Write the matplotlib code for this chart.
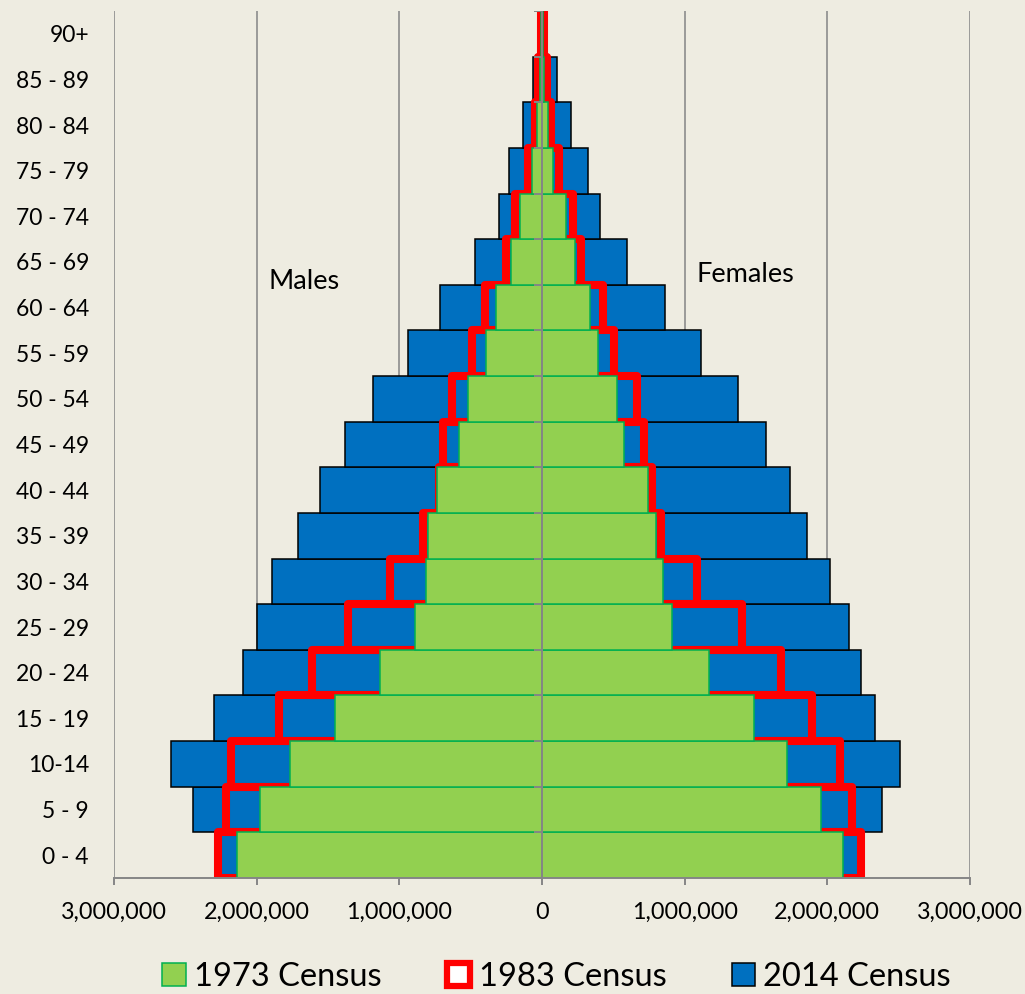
import numpy as np
import matplotlib
matplotlib.use('Agg')
import matplotlib.pyplot as plt
from matplotlib.patches import Patch
from matplotlib.ticker import FuncFormatter

plt.rcParams['font.family'] = ['Lato', 'DejaVu Sans']

# age groups, bottom to top
ages = ['0 - 4', '5 - 9', '10-14', '15 - 19', '20 - 24', '25 - 29', '30 - 34',
        '35 - 39', '40 - 44', '45 - 49', '50 - 54', '55 - 59', '60 - 64',
        '65 - 69', '70 - 74', '75 - 79', '80 - 84', '85 - 89', '90+']

males_1973 = [2135000, 1978000, 1766000, 1450000, 1133000, 887000, 815000,
              797000, 736000, 582000, 520000, 390000, 325000, 218000, 155000,
              68000, 37000, 13000, 5000]
females_1973 = [2108000, 1953000, 1715000, 1486000, 1173000, 913000, 850000,
                799000, 740000, 577000, 524000, 392000, 339000, 229000, 170000,
                77000, 42000, 15000, 6000]

males_1983 = [2272000, 2215000, 2182000, 1842000, 1609000, 1363000, 1065000,
              837000, 720000, 697000, 630000, 487000, 400000, 253000, 190000,
              98000, 52000, 25000, 10000]
females_1983 = [2236000, 2173000, 2090000, 1890000, 1675000, 1400000, 1085000,
                834000, 771000, 718000, 666000, 508000, 427000, 274000, 216000,
                117000, 65000, 35000, 16000]

males_2014 = [2250000, 2445000, 2600000, 2300000, 2098000, 2000000, 1895000,
              1708000, 1555000, 1380000, 1187000, 937000, 715000, 470000,
              301000, 229000, 131000, 61000, 15000]
females_2014 = [2215000, 2381000, 2510000, 2334000, 2236000, 2150000, 2020000,
                1855000, 1740000, 1570000, 1376000, 1115000, 865000, 596000,
                409000, 322000, 205000, 103000, 25000]

bg = '#EEECE1'
blue = '#0070C0'
green = '#92D050'
green_edge = '#00B050'
red = '#FF0000'
gray = '#868686'

fig = plt.figure(figsize=(10.25, 9.94), dpi=100, facecolor=bg)
ax = fig.add_axes([0.1112, 0.1167, 0.8351, 0.8722])
ax.set_facecolor(bg)

y = np.arange(len(ages))
m73 = np.array(males_1973)
f73 = np.array(females_1973)
m83 = np.array(males_1983)
f83 = np.array(females_1983)
m14 = np.array(males_2014)
f14 = np.array(females_2014)

# 2014 at the back
ax.barh(y, -m14, height=1.0, color=blue, edgecolor='black', linewidth=1.1, zorder=2)
ax.barh(y, f14, height=1.0, color=blue, edgecolor='black', linewidth=1.1, zorder=2)
# 1983 outlines
ax.barh(y, -m83, height=1.0, facecolor='none', edgecolor=red, linewidth=5.8,
        joinstyle='round', zorder=3)
ax.barh(y, f83, height=1.0, facecolor='none', edgecolor=red, linewidth=5.8,
        joinstyle='round', zorder=3)
# 1973 on top
ax.barh(y, -m73, height=1.0, color=green, edgecolor=green_edge, linewidth=1.1, zorder=4)
ax.barh(y, f73, height=1.0, color=green, edgecolor=green_edge, linewidth=1.1, zorder=4)

# centre axis with category ticks
ax.axvline(0, color=gray, lw=1.4, zorder=6)
ax.hlines(np.arange(-0.5, len(ages)), -55000, 0, color=gray, lw=1.4, zorder=6)

ax.set_xlim(-3000000, 3000000)
ax.set_ylim(-0.5, len(ages) - 0.5)
ax.set_xticks(np.arange(-3000000, 3000001, 1000000))
ax.xaxis.set_major_formatter(FuncFormatter(lambda v, p: '{:,.0f}'.format(abs(v))))
ax.set_yticks(y)
ax.set_yticklabels(ages)

ax.xaxis.grid(True, color='#8C8C8C', lw=1.2)
ax.set_axisbelow(True)

for s in ['left', 'right', 'top']:
    ax.spines[s].set_visible(False)
ax.spines['bottom'].set_color(gray)
ax.spines['bottom'].set_linewidth(1.4)
ax.spines['bottom'].set_zorder(7)

ax.tick_params(axis='x', direction='out', length=5, width=1.4, color=gray,
               labelsize=16.8, pad=12)
ax.tick_params(axis='y', length=0, labelsize=16.5, pad=18)

ax.text(-1920000, 12.57, 'Males', fontsize=19.5, va='center', ha='left')
ax.text(1080000, 12.72, 'Females', fontsize=19.5, va='center', ha='left')

handles = [Patch(facecolor=green, edgecolor=green_edge, linewidth=1.1),
           Patch(facecolor='white', edgecolor=red, linewidth=4.5, joinstyle='round'),
           Patch(facecolor=blue, edgecolor='black', linewidth=1.1)]
fig.legend(handles, ['1973 Census', '1983 Census', '2014 Census'],
           loc='center', bbox_to_anchor=(0.543, 0.017), ncol=3, frameon=False,
           fontsize=23.5, handlelength=0.72, handleheight=0.72, handletextpad=0.25,
           columnspacing=2.0)

plt.savefig('out.png', dpi=100, facecolor=bg)
